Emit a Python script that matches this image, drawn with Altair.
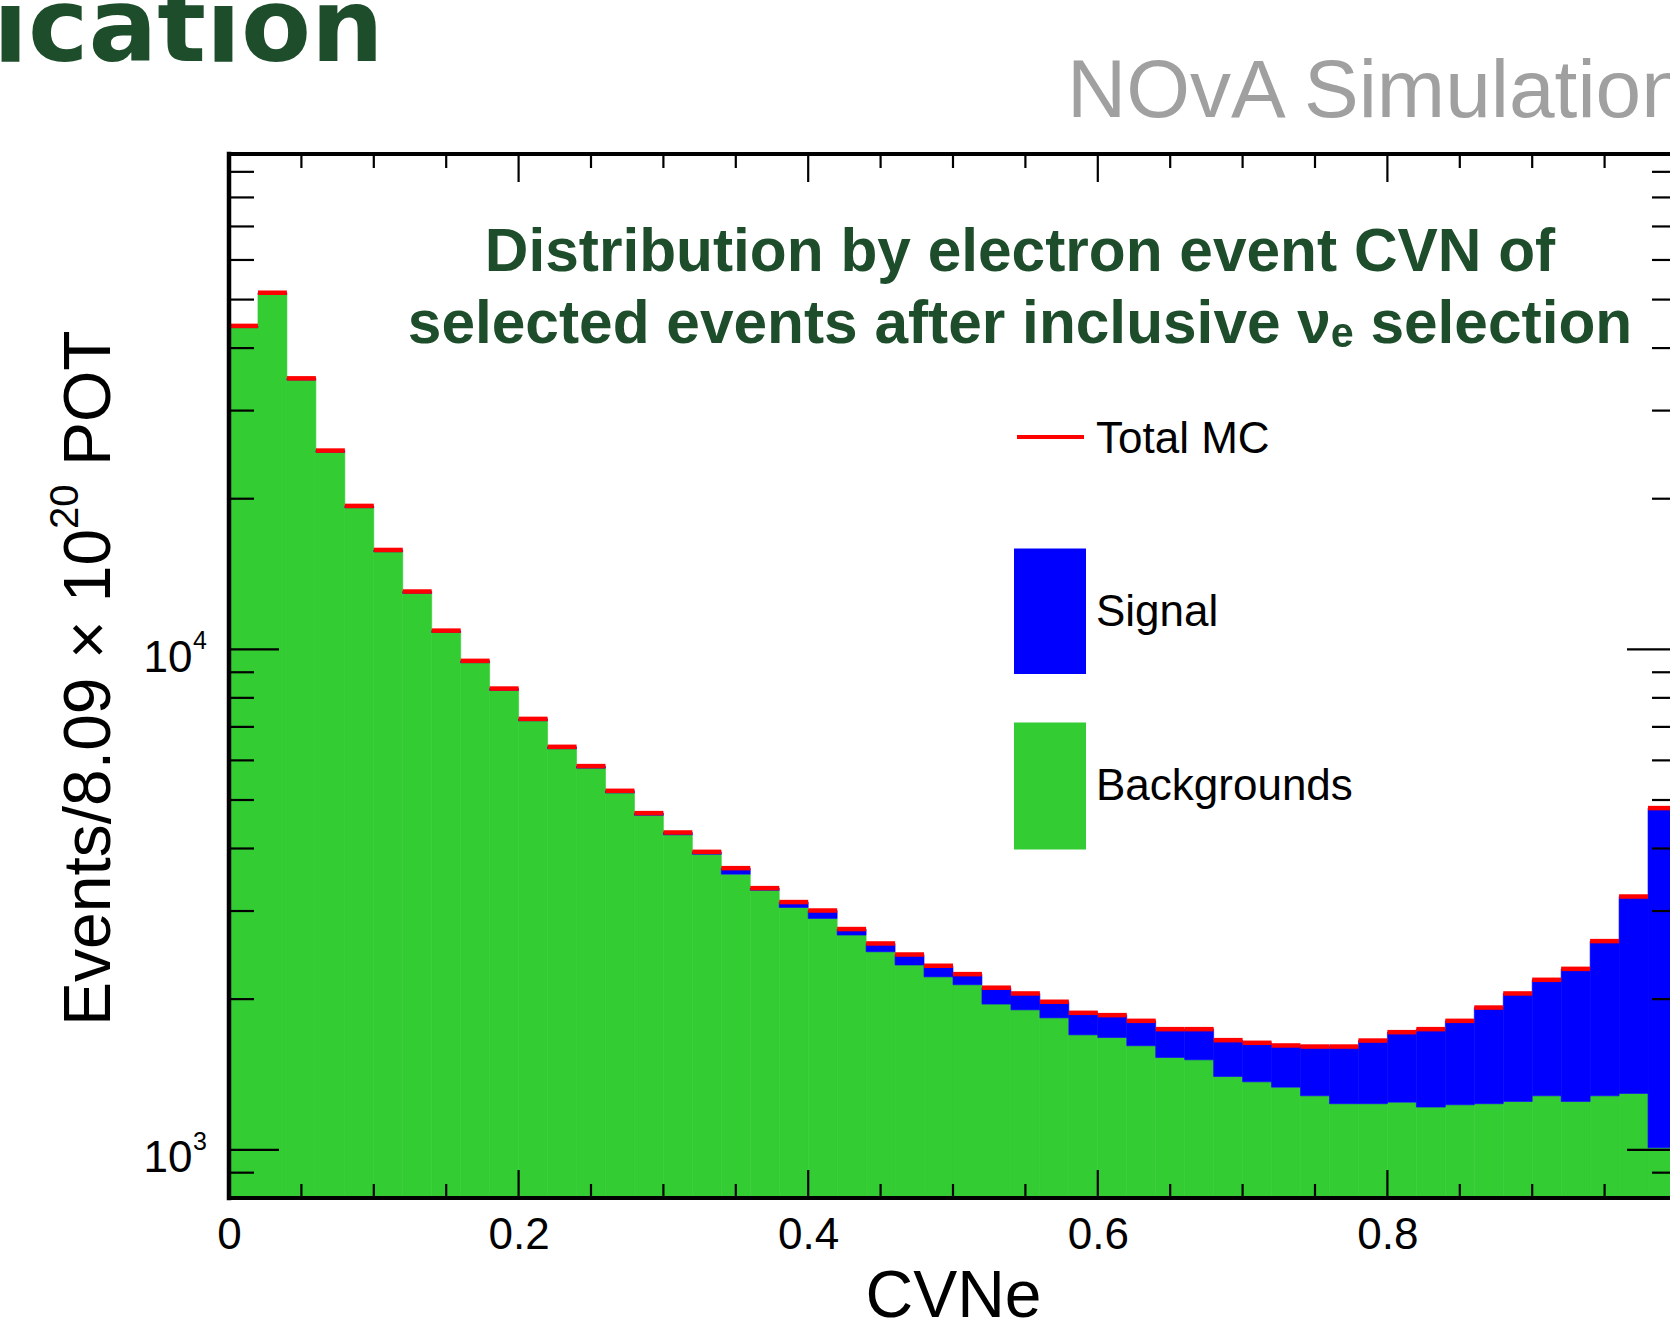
import altair as alt
import pandas as pd

# ---------------- data ----------------
BIN_LOW = [0.00, 0.02, 0.04, 0.06, 0.08, 0.10, 0.12, 0.14, 0.16, 0.18,
           0.20, 0.22, 0.24, 0.26, 0.28, 0.30, 0.32, 0.34, 0.36, 0.38,
           0.40, 0.42, 0.44, 0.46, 0.48, 0.50, 0.52, 0.54, 0.56, 0.58,
           0.60, 0.62, 0.64, 0.66, 0.68, 0.70, 0.72, 0.74, 0.76, 0.78,
           0.80, 0.82, 0.84, 0.86, 0.88, 0.90, 0.92, 0.94, 0.96, 0.98]
BIN_HIGH = [0.02, 0.04, 0.06, 0.08, 0.10, 0.12, 0.14, 0.16, 0.18, 0.20,
            0.22, 0.24, 0.26, 0.28, 0.30, 0.32, 0.34, 0.36, 0.38, 0.40,
            0.42, 0.44, 0.46, 0.48, 0.50, 0.52, 0.54, 0.56, 0.58, 0.60,
            0.62, 0.64, 0.66, 0.68, 0.70, 0.72, 0.74, 0.76, 0.78, 0.80,
            0.82, 0.84, 0.86, 0.88, 0.90, 0.92, 0.94, 0.96, 0.98, 1.00]
TOTAL_MC = [44300, 51600, 34800, 24960, 19350, 15800, 13050, 10900, 9485, 8350,
            7262, 6386, 5844, 5216, 4707, 4306, 3939, 3654, 3333, 3126,
            3007, 2761, 2584, 2456, 2332, 2244, 2108, 2053, 1976, 1878,
            1858, 1810, 1742, 1742, 1656, 1636, 1616, 1608, 1608, 1653,
            1718, 1742, 1810, 1924, 2053, 2186, 2299, 2612, 3207, 4817]
BACKGROUNDS = [43950, 51200, 34530, 24760, 19190, 15670, 12940, 10810, 9405, 8280,
               7200, 6330, 5790, 5165, 4660, 4260, 3895, 3554, 3300, 3049,
               2899, 2686, 2487, 2340, 2216, 2137, 1955, 1904, 1835, 1697,
               1676, 1614, 1529, 1513, 1401, 1367, 1334, 1282, 1236, 1236,
               1245, 1217, 1230, 1236, 1249, 1282, 1249, 1282, 1296, 1009]

X_MAJOR = [0.0, 0.2, 0.4, 0.6, 0.8, 1.0]
X_LABELS = ["0", "0.2", "0.4", "0.6", "0.8", "1"]
X_MINOR = [0.05, 0.10, 0.15, 0.25, 0.30, 0.35, 0.45, 0.50, 0.55,
           0.65, 0.70, 0.75, 0.85, 0.90, 0.95]
Y_MAJOR = [1000, 10000]
Y_LABEL_BASE = "10"
Y_EXPONENTS = ["3", "4"]
Y_MINOR = [900, 2000, 3000, 4000, 5000, 6000, 7000, 8000, 9000,
           20000, 30000, 40000, 50000, 60000, 70000, 80000, 90000]

Y_TITLE_PARTS = ["Events/8.09 × 10", "20", "POT"]
TITLE_LINES = ["Distribution by electron event CVN of",
               "selected events after inclusive νₑ selection"]
LEGEND_LABELS = ["Total MC", "Signal", "Backgrounds"]

# ---------------- styling / layout ----------------
W, H = 1441, 1044
RIGHT_FRAME = 1448
X_DOMAIN = [0, 0.99517]
Y_DOMAIN = [801, 97700]
GREEN = "#33cc33"
BLUE = "#0000ff"
RED = "#ff0000"
DARKGREEN = "#1e4d2b"
FONT = "Liberation Sans"

bins = pd.DataFrame({"lo": BIN_LOW, "hi": BIN_HIGH,
                     "total": TOTAL_MC, "bkg": BACKGROUNDS})

xs = alt.Scale(domain=X_DOMAIN, nice=False, zero=False)
ys = alt.Scale(type="log", domain=Y_DOMAIN, nice=False)

x_expr = " : ".join(f"datum.value == {v} ? '{l}'" for v, l in zip(X_MAJOR, X_LABELS)) + " : ''"

x_axis = alt.Axis(values=X_MAJOR, labelExpr=x_expr, ticks=False, tickSize=0, domain=False,
                  grid=False, labelFontSize=44, labelFont=FONT, labelColor="black",
                  labelPadding=50, labelBaseline="alphabetic", labelAlign="center",
                  labelOverlap=False, labelFlush=False, labelBound=False,
                  title="CVNe", titleFont=FONT, titleFontSize=66, titleFontWeight="normal",
                  titleColor="black", titleX=724, titleY=118, titleAlign="center",
                  titleBaseline="alphabetic")
y_axis = alt.Axis(values=Y_MAJOR, labelExpr=f"'{Y_LABEL_BASE}'", ticks=False, tickSize=0,
                  domain=False, grid=False, labelFontSize=44, labelFont=FONT,
                  labelColor="black", labelPadding=37, labelBaseline="alphabetic",
                  labelOffset=22, labelOverlap=False, labelBound=False, title=None)


def X(field):
    return alt.X(field, scale=xs, axis=x_axis)


def Y(field):
    return alt.Y(field, scale=ys, axis=y_axis)


base = alt.Chart(bins)

bkg_rect = base.mark_rect(color=GREEN, stroke=GREEN, strokeWidth=0.6).encode(
    x=X("lo:Q"), x2="hi:Q", y=Y("bkg:Q"), y2=alt.value(H))
sig_rect = base.mark_rect(color=BLUE, stroke=BLUE, strokeWidth=0.6).encode(
    x=X("lo:Q"), x2="hi:Q", y=Y("total:Q"), y2="bkg:Q")
total_line = base.mark_rule(color=RED, strokeWidth=4.5).encode(
    x=X("lo:Q"), x2="hi:Q", y=Y("total:Q"))

df_xmaj = pd.DataFrame({"v": X_MAJOR})
df_xmin = pd.DataFrame({"v": X_MINOR})
df_ymaj = pd.DataFrame({"v": Y_MAJOR, "exp": Y_EXPONENTS})
df_ymin = pd.DataFrame({"v": Y_MINOR})


def xticks(df, y0, y1):
    return alt.Chart(df).mark_rule(color="black", strokeWidth=2.2).encode(
        x=X("v:Q"), y=alt.value(y0), y2=alt.value(y1))


def yticks(df, x0, x1):
    return alt.Chart(df).mark_rule(color="black", strokeWidth=2.2).encode(
        y=Y("v:Q"), x=alt.value(x0), x2=alt.value(x1))


ticks = [
    xticks(df_xmaj, H - 28, H), xticks(df_xmin, H - 14, H),
    xticks(df_xmaj, 0, 28), xticks(df_xmin, 0, 14),
    yticks(df_ymaj, 0, 50), yticks(df_ymin, 0, 25),
    yticks(df_ymaj, RIGHT_FRAME - 50, W), yticks(df_ymin, RIGHT_FRAME - 25, W),
]

# exponent of the y tick labels (10^3, 10^4), raised like ROOT's superscript
y_exp = alt.Chart(df_ymaj).mark_text(
    align="left", baseline="alphabetic", font=FONT, fontSize=25, color="black").encode(
    y=Y("v:Q"), x=alt.value(-36), text="exp:N")

one = pd.DataFrame({"_": [0]})
frame_top = alt.Chart(one).mark_rule(color="black", strokeWidth=4, strokeCap="square").encode(
    x=alt.value(0), x2=alt.value(W), y=alt.value(0))
frame_bottom = alt.Chart(one).mark_rule(color="black", strokeWidth=4, strokeCap="square").encode(
    x=alt.value(0), x2=alt.value(W), y=alt.value(H))
frame_left = alt.Chart(one).mark_rule(color="black", strokeWidth=4.5, strokeCap="square").encode(
    x=alt.value(0), y=alt.value(0), y2=alt.value(H))


def rot_text(txt, x, y, size):
    return alt.Chart(one).mark_text(
        align="left", baseline="alphabetic", font=FONT, fontSize=size, color="black",
        angle=270).encode(x=alt.value(x), y=alt.value(y), text=alt.value(txt))


y_title = [
    rot_text(Y_TITLE_PARTS[0], -119, 872, 66),
    rot_text(Y_TITLE_PARTS[1], -151, 375, 40),
    rot_text(Y_TITLE_PARTS[2], -119, 312, 66),
]

title_txt = alt.Chart(one).mark_text(
    align="center", baseline="alphabetic", font=FONT, fontSize=60.4, fontWeight="bold",
    color=DARKGREEN, lineHeight=72).encode(
    x=alt.value(791), y=alt.value(117), text=alt.value(TITLE_LINES))

slide_txt = alt.Chart(one).mark_text(
    align="left", baseline="alphabetic", font="DejaVu Sans", fontSize=102, fontWeight="bold",
    color=DARKGREEN).encode(x=alt.value(-236), y=alt.value(-93), text=alt.value("ication"))

nova_txt = alt.Chart(one).mark_text(
    align="left", baseline="alphabetic", font=FONT, fontSize=82, color="#a0a0a0").encode(
    x=alt.value(838), y=alt.value(-37), text=alt.value("NOvA Simulation"))

leg_line = alt.Chart(one).mark_rule(color=RED, strokeWidth=4).encode(
    x=alt.value(788), x2=alt.value(855), y=alt.value(283))
leg_sig = alt.Chart(one).mark_rect(color=BLUE).encode(
    x=alt.value(785), x2=alt.value(857), y=alt.value(394.5), y2=alt.value(520))
leg_bkg = alt.Chart(one).mark_rect(color=GREEN).encode(
    x=alt.value(785), x2=alt.value(857), y=alt.value(568.5), y2=alt.value(695.5))


def leg_text(label, y):
    return alt.Chart(one).mark_text(
        align="left", baseline="alphabetic", font=FONT, fontSize=44, color="black").encode(
        x=alt.value(867), y=alt.value(y), text=alt.value(label))


legend_texts = [leg_text(LEGEND_LABELS[0], 299), leg_text(LEGEND_LABELS[1], 472),
                leg_text(LEGEND_LABELS[2], 646)]

chart = alt.layer(
    bkg_rect, sig_rect, total_line, *ticks, y_exp, frame_top, frame_bottom, frame_left,
    *y_title, title_txt, slide_txt, nova_txt, leg_line, leg_sig, leg_bkg, *legend_texts,
).properties(
    width=W, height=H,
    padding={"left": 229, "top": 154, "right": 0, "bottom": 130},
    autosize=alt.AutoSizeParams(type="none"),
    background="white",
).configure(font=FONT).configure_view(stroke=None)

chart.save("out.html", embed_options={"renderer": "svg", "actions": False})
